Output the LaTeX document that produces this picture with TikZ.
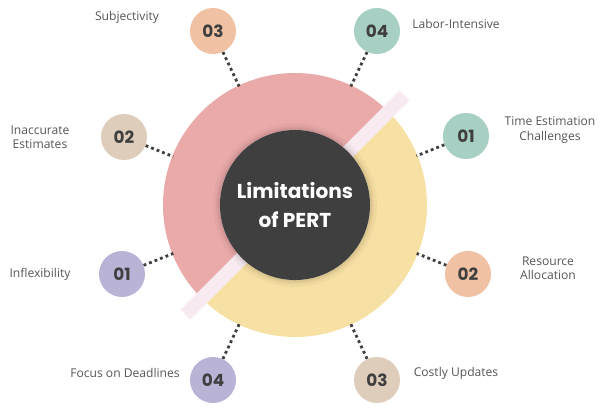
\documentclass[tikz,border=0pt]{standalone}
\usepackage{fontspec}
\setmainfont{Open Sans}
\newfontfamily\poppins{Poppins}
\usetikzlibrary{calc}
\definecolor{rose}{HTML}{EBAAAA}
\definecolor{sand}{HTML}{F7E0A3}
\definecolor{charcoal}{HTML}{3F3F3F}
\definecolor{peach}{HTML}{F0C2A3}
\definecolor{beige}{HTML}{DECDBB}
\definecolor{lavender}{HTML}{B9B4D6}
\definecolor{sage}{HTML}{A8CFC3}
\definecolor{blush}{HTML}{F8EAF1}
\definecolor{labelgray}{HTML}{555555}

\begin{document}
\begin{tikzpicture}[x=0.025cm,y=0.025cm,
	num/.style={circle,minimum size=1.15cm,inner sep=0pt,
		font=\poppins\bfseries\fontsize{12}{12}\selectfont,text=charcoal},
	lbl/.style={font=\fontsize{8.6}{10}\selectfont,text=labelgray,align=center},
	link/.style={draw=charcoal,line width=2pt,dash pattern=on 2pt off 2.2pt}]
	\useasboundingbox (0,0) rectangle (600,410);
	\coordinate (c) at (295,205);

	% Two halves of the ring, split along the diagonal
	\fill[rose] ($(c)+(45:132)$) arc (45:225:132) -- ($(c)+(225:75)$) arc (225:45:75) -- cycle;
	\fill[sand] ($(c)+(225:132)$) arc (225:405:132) -- ($(c)+(45:75)$) arc (45:-135:75) -- cycle;
	\fill[blush,rotate around={45:(295,205)}] (140,198) rectangle (450,212);

	% Centre, with a soft shadow
	\fill[black,opacity=0.03] (c) circle (82);
	\fill[black,opacity=0.04] (c) circle (79);
	\fill[black,opacity=0.05] (c) circle (77);
	\node[circle,fill=charcoal,minimum size=3.75cm,inner sep=0pt,text=white,align=center,
		font=\poppins\bfseries\fontsize{14.3}{20}\selectfont] (title) at (c) {Limitations\\of PERT};

	% Points where the links meet the ring
	\coordinate (e-subj) at ($(c)+(115.2:131)$);
	\coordinate (e-inacc) at ($(c)+(158.3:131)$);
	\coordinate (e-inflex) at ($(c)+(201.7:131)$);
	\coordinate (e-focus) at ($(c)+(244.9:131)$);
	\coordinate (e-labor) at ($(c)+(64.8:131)$);
	\coordinate (e-time) at ($(c)+(22:131)$);
	\coordinate (e-res) at ($(c)+(-21.7:131)$);
	\coordinate (e-cost) at ($(c)+(-64.9:131)$);

	% Numbered circles
	\node[num,fill=peach] (subj) at (213,379) {03};
	\node[num,fill=beige] (inacc) at (124,273) {02};
	\node[num,fill=lavender] (inflex) at (122,136) {01};
	\node[num,fill=lavender] (focus) at (213,30) {04};
	\node[num,fill=sage] (labor) at (377,379) {04};
	\node[num,fill=sage] (time) at (466,274) {01};
	\node[num,fill=peach] (res) at (468,136) {02};
	\node[num,fill=beige] (cost) at (377,30) {03};

	% Dotted links
	\draw[link] (subj) -- (e-subj);
	\draw[link] (inacc) -- (e-inacc);
	\draw[link] (inflex) -- (e-inflex);
	\draw[link] (focus) -- (e-focus);
	\draw[link] (labor) -- (e-labor);
	\draw[link] (time) -- (e-time);
	\draw[link] (res) -- (e-res);
	\draw[link] (cost) -- (e-cost);

	% Labels
	\node[lbl] (t-subj) at (127,393) {Subjectivity};
	\node[lbl] (t-inacc) at (40,273) {Inaccurate\\Estimates};
	\node[lbl] (t-inflex) at (40,136) {Inflexibility};
	\node[lbl] (t-focus) at (125,37) {Focus on Deadlines};
	\node[lbl] (t-labor) at (456,386) {Labor-Intensive};
	\node[lbl] (t-time) at (550,280) {Time Estimation\\Challenges};
	\node[lbl] (t-res) at (548,142) {Resource\\Allocation};
	\node[lbl] (t-cost) at (456,37) {Costly Updates};
\end{tikzpicture}
\end{document}
